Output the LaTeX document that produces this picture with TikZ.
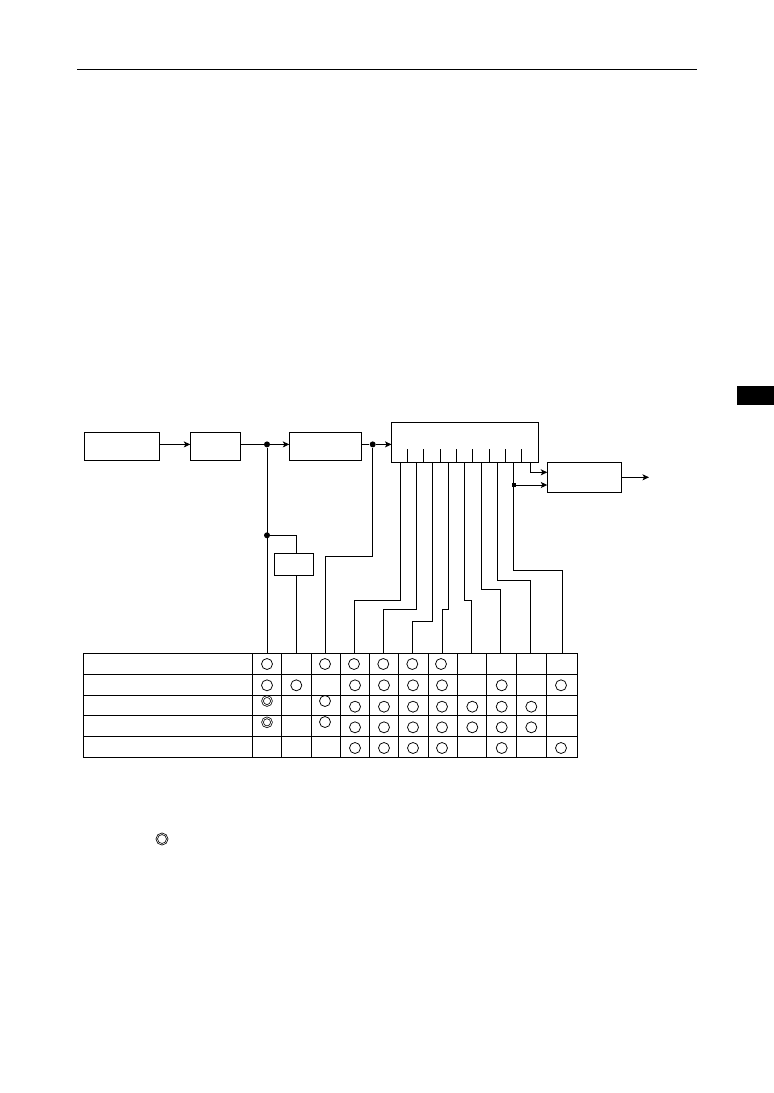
\documentclass[tikz,border=0pt]{standalone}
\usepackage{tikz}
\usetikzlibrary{arrows.meta}

\begin{document}
\begin{tikzpicture}[x=1pt,y=-1pt,->,>={Stealth[length=6.5pt,width=6pt,inset=1.6pt]},line width=0.9pt,
  block/.style={rectangle,draw,inner sep=0pt,outer sep=0pt},
  junction/.style={circle,fill=black,draw=none,inner sep=0pt,minimum size=6pt},
  mark node/.style={circle,draw,-,inner sep=0pt,minimum size=11pt,line width=0.75pt},
  ring node/.style={circle,draw,-,inner sep=0pt,minimum size=9pt,line width=0.75pt,double,double distance=0.8pt}]

  \useasboundingbox (0,0) rectangle (774,1093);

  % page furniture
  \coordinate (ruleL) at (77,69.5);
  \coordinate (ruleR) at (697,69.5);
  \draw[-,line width=0.7pt] (ruleL) -- (ruleR);
  \node[block,fill=black,minimum width=37pt,minimum height=17.5pt] (tab mark) at (755.5,395.5) {};

  % blocks
  \node[block,minimum width=75.2pt,minimum height=28pt] (src) at (122.1,446.5) {};
  \node[block,minimum width=50.4pt,minimum height=28pt] (amp) at (215.5,446.5) {};
  \node[block,minimum width=72.4pt,minimum height=28pt] (proc) at (325.5,446.5) {};
  \node[block,minimum width=147pt,minimum height=40pt] (ctrl) at (465,442.5) {};
  \node[block,minimum width=74pt,minimum height=30pt] (out) at (584.3,477.3) {};
  \node[block,minimum width=39pt,minimum height=22pt] (aux) at (293.8,564.3) {};

  \node[junction] (j1) at (267,444.4) {};
  \node[junction] (j2) at (372.7,444.4) {};
  \node[junction] (j3) at (267,535.3) {};
  \node[junction,rectangle,minimum size=4pt] (j4) at (513.6,485) {};

  \coordinate (end) at (649,477.3);

  % table
  \node[block,minimum width=494.2pt,minimum height=103.7pt] (tab) at (330.6,705.15) {};
  \foreach \y in {674.3,695.3,715.7,736.7}
    \draw[-] (tab.west |- 0,\y) -- (tab.east |- 0,\y);
  \foreach \x in {252.3,281.3,311.3,340.5,369.3,398.7,428.3,457.3,486.3,516.3,546.3}
    \draw[-] (\x,653.3) -- (\x,757);

  % column heads, taps
  \foreach \n/\x in {a/267,b/296.7,c/325.3,d/354.3,e/383.3,f/412.3,g/442.3,h/471.3,i/500.3,k/530.3,l/562.3}
    \coordinate (top\n) at (\x,653.3);
  \foreach \n/\x in {1/400.3,2/416.3,3/432.3,4/448.3,5/464.3,6/481.3,7/497.3,8/513.3,9/530.3}
    \coordinate (tap\n) at (\x,462.5);
  \foreach \x in {407.3,423.3,440.3,456.3,472.3,489.3,505.3,521.3}
    \draw[-] (\x,449) -- (\x,462.5);

  % signal path
  \draw (src.east |- 0,444.4) -- (amp.west |- 0,444.4);
  \draw[-] (amp.east |- j1) -- (j1);
  \draw (j1) -- (proc.west |- j1);
  \draw[-] (proc.east |- j2) -- (j2);
  \draw (j2) -- (ctrl.west |- j2);
  \draw (out.east) -- (end);
  \draw (tap9) |- (out.west |- 0,472.3);
  \draw (j4) -- (out.west |- j4);

  % feeds to the table
  \draw[-] (j1) -- (topa);
  \draw[-] (j3) -| (aux.north -| topb);
  \draw[-] (aux.south -| topb) -- (topb);
  \draw[-] (j2) |- (topc |- 0,556.3) -- (topc);
  \foreach \a/\b/\y in {1/d/600.3,2/e/609.3,3/f/621.3,4/g/609.3,5/h/600.3,6/i/589.3,7/k/580.3,8/l/570.3}
    \draw[-] (tap\a) |- (top\b |- 0,\y) -- (top\b);

  % table marks
  \foreach \x/\y in {267/664,325/664,354/664,383.3/664,412.3/664,441/664,
      267/685.3,296.3/685.3,355/685.3,384/685.3,413/685.3,442/685.3,501.7/685.3,561/685.3,
      325/701,355/706.7,384/706.7,413/706.7,442/706.7,472.3/706.7,501.7/706.7,531.3/706.7,
      325/722,355/727.3,384/727.3,413/727.3,442/727.3,472.3/727.3,501.7/727.3,531.3/727.3,
      355/748,384/748,413/748,442/748,501.7/748,561/748}
    \node[mark node] at (\x,\y) {};
  \node[ring node] (r1) at (267,701) {};
  \node[ring node] (r2) at (267,722.3) {};
  \node[ring node,minimum size=10.5pt,double distance=0.6pt] (r3) at (162,839) {};
\end{tikzpicture}
\end{document}
